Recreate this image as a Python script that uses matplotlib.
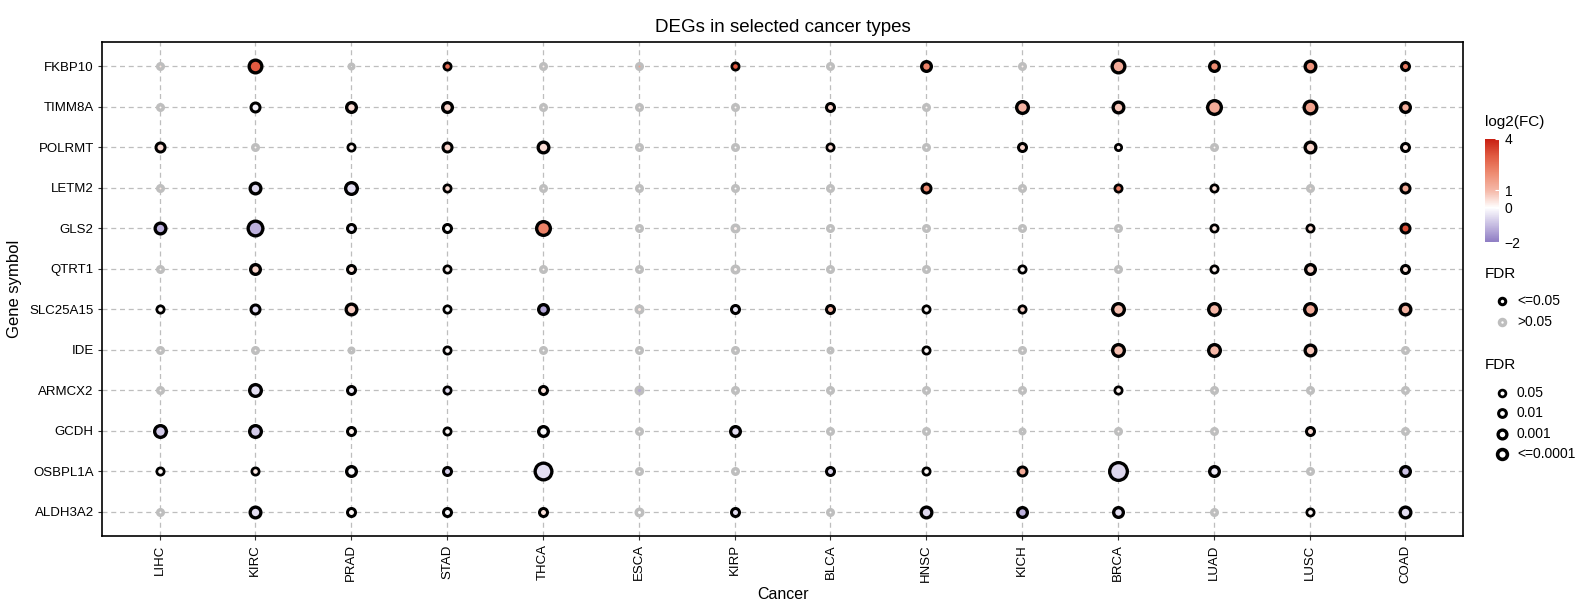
import numpy as np
import matplotlib
matplotlib.use('Agg')
import matplotlib.pyplot as plt
from matplotlib.colors import LinearSegmentedColormap, Normalize
from matplotlib.cm import ScalarMappable

plt.rcParams['font.family'] = ['Liberation Sans', 'DejaVu Sans']

cancers = ['LIHC', 'KIRC', 'PRAD', 'STAD', 'THCA', 'ESCA', 'KIRP', 'BLCA',
           'HNSC', 'KICH', 'BRCA', 'LUAD', 'LUSC', 'COAD']
genes = ['FKBP10', 'TIMM8A', 'POLRMT', 'LETM2', 'GLS2', 'QTRT1', 'SLC25A15',
         'IDE', 'ARMCX2', 'GCDH', 'OSBPL1A', 'ALDH3A2']

# log2 fold change per gene (rows) and cancer (columns)
log2fc = [
    [0.3, 3.0, 0.0, 2.6, 0.2, 1.5, 3.0, 0.1, 2.2, 0.2, 1.3, 2.0, 1.8, 2.3],
    [0.1, -0.2, 0.5, 0.6, 0.1, 0.2, 0.1, 0.6, 0.1, 1.1, 0.8, 1.3, 1.5, 1.2],
    [0.5, 0.1, 0.2, 0.6, 0.5, 0.1, 0.0, 0.5, 0.0, 0.6, 0.2, 0.1, 0.6, 0.3],
    [0.3, -0.6, -0.5, 0.5, 0.1, 0.0, 0.0, 0.1, 2.0, 0.1, 2.3, 0.4, 0.3, 1.3],
    [-1.2, -1.2, -0.4, 0.0, 2.2, 0.0, 0.2, 0.0, 0.1, 0.0, 0.0, 0.3, 0.5, 3.2],
    [0.1, 0.6, 0.4, 0.2, 0.1, 0.0, 0.1, 0.0, 0.0, 0.1, 0.0, 0.2, 0.6, 0.4],
    [0.1, -0.5, 0.7, 0.0, -1.3, 0.3, -0.4, 1.0, 0.1, 0.6, 0.9, 1.0, 1.3, 1.1],
    [0.1, 0.1, 0.0, 0.1, 0.0, 0.0, 0.1, 0.0, 0.1, 0.1, 0.9, 1.0, 0.8, 0.1],
    [0.1, -0.5, -0.3, -0.5, 0.4, -1.3, -0.1, -0.1, -0.1, 0.1, 0.2, 0.1, -0.1, 0.0],
    [-0.8, -0.8, 0.2, 0.1, -0.1, 0.1, -0.5, 0.0, 0.0, 0.0, 0.1, 0.1, 0.5, 0.1],
    [0.1, 0.3, -0.1, -0.7, -0.5, 0.0, 0.0, -0.6, 0.1, 1.3, -0.6, -0.3, 0.0, -0.9],
    [0.0, -0.5, 0.1, -0.1, 0.4, 0.0, -0.5, 0.0, -0.6, -1.2, -0.5, 0.1, 0.1, -0.5],
]

# FDR class: 0 = >0.05, 1 = 0.05, 2 = 0.01, 3 = 0.001, 4 = <=0.0001
fdr_level = [
    [0, 4, 0, 2, 0, 0, 2, 0, 4, 0, 4, 4, 4, 3],
    [0, 3, 4, 4, 0, 0, 0, 3, 0, 4, 4, 4, 4, 4],
    [3, 0, 2, 3, 4, 0, 0, 2, 0, 3, 2, 0, 4, 3],
    [0, 4, 4, 2, 0, 0, 0, 0, 3, 0, 2, 2, 0, 3],
    [4, 4, 3, 3, 4, 0, 0, 0, 0, 0, 0, 2, 2, 3],
    [0, 4, 3, 2, 0, 0, 0, 0, 0, 2, 0, 2, 4, 3],
    [2, 3, 4, 2, 4, 0, 3, 3, 2, 2, 4, 4, 4, 4],
    [0, 0, 0, 2, 0, 0, 0, 0, 2, 0, 4, 4, 4, 0],
    [0, 4, 3, 2, 3, 0, 0, 0, 0, 0, 2, 0, 0, 0],
    [4, 4, 3, 2, 4, 0, 4, 0, 0, 0, 0, 0, 3, 0],
    [2, 2, 4, 3, 4, 0, 0, 3, 2, 3, 4, 4, 0, 4],
    [0, 4, 3, 3, 3, 0, 3, 0, 4, 4, 4, 0, 2, 4],
]

# dot size (outer diameter, px)
dot_size = [
    [9, 16, 8, 10, 9, 9, 10, 9, 13, 9, 16, 13, 14, 11],
    [9, 12, 13, 13, 9, 9, 9, 11, 9, 15, 14, 17, 16, 13],
    [12, 9, 10, 12, 14, 9, 9, 10, 9, 11, 9, 9, 14, 11],
    [9, 14, 15, 10, 9, 9, 9, 9, 12, 9, 10, 10, 9, 12],
    [14, 18, 11, 11, 17, 9, 10, 9, 9, 9, 9, 10, 10, 12],
    [9, 13, 11, 10, 9, 9, 10, 9, 9, 10, 9, 10, 13, 11],
    [10, 12, 14, 10, 13, 10, 11, 11, 10, 10, 15, 15, 15, 14],
    [9, 9, 8, 10, 9, 9, 9, 8, 10, 9, 15, 15, 14, 9],
    [9, 15, 11, 10, 11, 10, 9, 9, 9, 9, 10, 9, 9, 9],
    [15, 15, 11, 10, 13, 9, 13, 9, 9, 8, 9, 9, 11, 9],
    [10, 10, 13, 11, 20, 9, 9, 11, 10, 12, 21, 13, 9, 13],
    [9, 14, 11, 11, 11, 10, 11, 9, 14, 13, 13, 9, 10, 14],
]

fc_ticks = [-2, 0, 1, 4]
sig_labels = ['<=0.05', '>0.05']
fdr_labels = ['0.05', '0.01', '0.001', '<=0.0001']

W, H, DPI = 1578, 609, 100
PX = 72.0 / DPI  # px -> pt
stroke_px = {0: 3.5, 1: 2.4, 2: 2.7, 3: 3.0, 4: 3.3}
grey = '#BEBEBE'

cmap = LinearSegmentedColormap.from_list('fc', [
    (0.0, '#8E7CC3'), (1 / 6, '#C7BDE2'), (2 / 6, '#FFFFFF'),
    (3 / 6, '#F5B8A8'), (4 / 6, '#EE8C72'), (5 / 6, '#E15B42'), (1.0, '#C81F12')])
norm = Normalize(vmin=-2, vmax=4)

fig = plt.figure(figsize=(W / DPI, H / DPI), dpi=DPI)
ax = fig.add_axes([102 / W, 1 - 536 / H, (1463 - 102) / W, (536 - 42) / H])

fc = np.array(log2fc)
lvl = np.array(fdr_level)
sz = np.array(dot_size, dtype=float)
nrow = len(genes)
for i in range(nrow):
    for j in range(len(cancers)):
        lw = stroke_px[lvl[i, j]]
        d = max(sz[i, j] - lw, 1.0)
        ax.scatter(j, nrow - 1 - i, s=(d * PX) ** 2, c=[cmap(norm(fc[i, j]))],
                   edgecolors='black' if lvl[i, j] > 0 else grey,
                   linewidths=lw * PX, zorder=3 if lvl[i, j] > 0 else 2)

ax.set_xlim(-0.6, len(cancers) - 0.4)
ax.set_ylim(-0.6, nrow - 0.4)
ax.set_xticks(range(len(cancers)))
ax.set_xticklabels(cancers, rotation=90, fontsize=9.5)
ax.set_yticks(range(nrow))
ax.set_yticklabels(genes[::-1], fontsize=9.5)
ax.grid(True, color=grey, linestyle=(0, (4, 3)), linewidth=0.9, zorder=0)
ax.set_axisbelow(True)
ax.tick_params(length=3, width=0.8, color='#333333', pad=3)
for sp in ax.spines.values():
    sp.set_linewidth(1.2)
ax.set_xlabel('Cancer', fontsize=11.5, labelpad=3)
ax.set_ylabel('Gene symbol', fontsize=12, labelpad=5)
ax.set_title('DEGs in selected cancer types', fontsize=13.5, pad=7)

# colour bar
cax = fig.add_axes([1485 / W, 1 - 242 / H, 14 / W, (242 - 139) / H])
cb = fig.colorbar(ScalarMappable(norm=norm, cmap=cmap), cax=cax)
cb.set_ticks(fc_ticks)
cb.set_ticklabels(['\u22122' if t < 0 else str(t) for t in fc_ticks])
cb.outline.set_visible(False)
cax.tick_params(length=3, width=0.8, color='white', direction='in', labelsize=10, pad=4)

# legend overlay in pixel coordinates
lg = fig.add_axes([0, 0, 1, 1], facecolor='none')
lg.set_xlim(0, W)
lg.set_ylim(H, 0)
lg.axis('off')
lx, mx, tx = 1485, 1502, 1517
lg.text(lx, 122, 'log2(FC)', fontsize=11, va='center', ha='left')

lg.text(lx, 274, 'FDR', fontsize=11, va='center', ha='left')
for k, (lab, ec) in enumerate(zip(sig_labels, ['black', grey])):
    y = 301 + k * 21
    lw = stroke_px[3] if k == 0 else stroke_px[0]
    lg.scatter(mx, y, s=((9.5 - lw) * PX) ** 2, c='white',
               edgecolors=ec, linewidths=lw * PX)
    lg.text(tx, y, lab, fontsize=10, va='center', ha='left')

lg.text(lx, 365, 'FDR', fontsize=11, va='center', ha='left')
for k, lab in enumerate(fdr_labels):
    y = 393 + k * 20.4
    lw = stroke_px[k + 1] + 0.3
    o = 9.5 + k * 1.3
    lg.scatter(mx, y, s=((o - lw) * PX) ** 2, c='white', edgecolors='black',
               linewidths=lw * PX)
    lg.text(tx, y, lab, fontsize=10, va='center', ha='left')

fig.savefig('out.png', dpi=DPI)
